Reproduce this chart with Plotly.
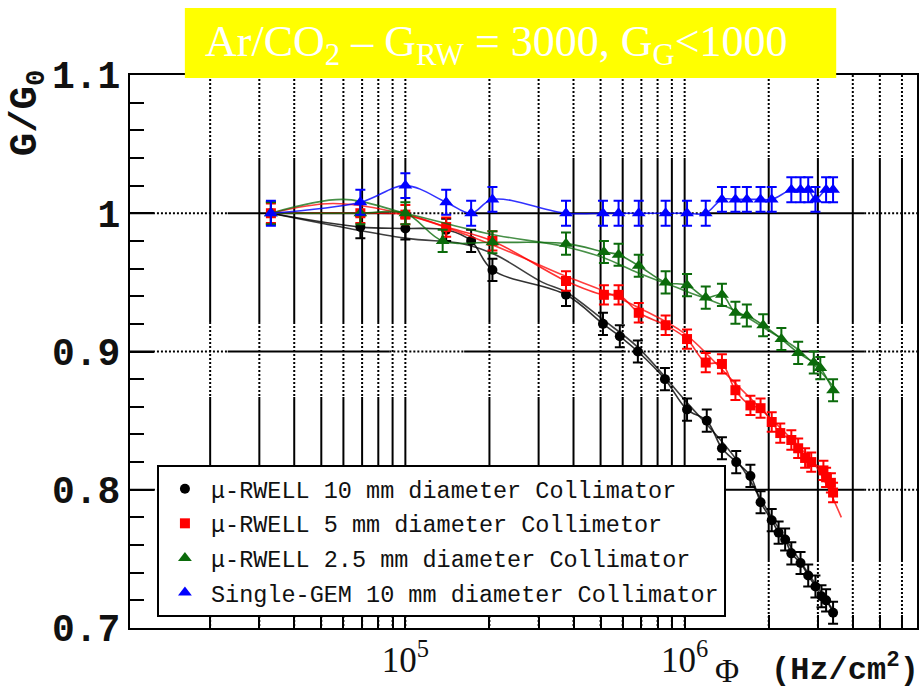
import math
import plotly.graph_objects as go

# ---------------- data ----------------
# mu-RWELL, 10 mm diameter collimator (measured points, run 1)
rw10_flux = [3.3e4, 6.9e4, 1.0e5, 1.4e5, 1.72e5, 2.05e5, 3.76e5, 5.1e5, 5.86e5, 6.8e5,
             8.5e5, 1.02e6, 1.2e6, 1.36e6, 1.53e6, 1.72e6, 1.87e6, 2.05e6, 2.17e6,
             2.29e6, 2.41e6, 2.6e6, 2.77e6, 2.94e6, 3.09e6, 3.21e6, 3.4e6]
rw10_gain = [1.0, 0.99, 0.989, 0.988, 0.98, 0.959, 0.941, 0.92, 0.911, 0.90,
             0.88, 0.858, 0.85, 0.83, 0.82, 0.81, 0.791, 0.778, 0.769,
             0.764, 0.754, 0.747, 0.738, 0.73, 0.723, 0.72, 0.711]
# run 2 of the same configuration (curve only)
rw10b_flux = [3.3e4, 1.0e5, 1.6e5, 2.1e5, 3.1e5, 3.76e5, 5.1e5, 6.8e5, 1.02e6, 1.53e6, 2.05e6, 2.6e6, 3.4e6]
rw10b_gain = [1.0, 0.982, 0.978, 0.97, 0.95, 0.943, 0.923, 0.903, 0.863, 0.822, 0.78, 0.748, 0.713]

# mu-RWELL, 5 mm diameter collimator
rw5_flux = [3.3e4, 6.9e4, 1.0e5, 1.4e5, 2.05e5, 3.76e5, 5.14e5, 5.8e5, 6.85e5, 8.55e5,
            1.02e6, 1.19e6, 1.36e6, 1.52e6, 1.72e6, 1.87e6, 2.05e6, 2.2e6, 2.41e6,
            2.55e6, 2.7e6, 2.84e6, 3.14e6, 3.21e6, 3.34e6, 3.4e6]
rw5_gain = [1.0, 1.0, 0.999, 0.99, 0.98, 0.951, 0.941, 0.941, 0.928, 0.919,
            0.909, 0.892, 0.891, 0.872, 0.861, 0.859, 0.849, 0.841, 0.836,
            0.83, 0.823, 0.82, 0.814, 0.809, 0.805, 0.798]
rw5b_flux = [3.3e4, 5.5e4, 1.0e5, 2.0e5, 3.7e5, 5.1e5, 6.8e5, 1.0e6, 1.5e6, 2.0e6, 2.6e6, 3.0e6, 3.64e6]
rw5b_gain = [1.0, 1.007, 0.999, 0.978, 0.955, 0.944, 0.932, 0.913, 0.878, 0.853, 0.83, 0.815, 0.78]

# mu-RWELL, 2.5 mm diameter collimator
rw25_flux = [3.3e4, 6.9e4, 1.0e5, 1.36e5, 2.05e5, 3.76e5, 5.14e5, 5.8e5, 6.85e5, 8.55e5,
             1.02e6, 1.19e6, 1.36e6, 1.52e6, 1.67e6, 1.91e6, 2.22e6, 2.55e6, 2.9e6,
             3.06e6, 3.4e6]
rw25_gain = [1.0, 1.0, 1.0, 0.98, 0.979, 0.978, 0.972, 0.97, 0.962, 0.95,
             0.948, 0.939, 0.941, 0.928, 0.926, 0.919, 0.909, 0.899, 0.892,
             0.888, 0.872]
rw25b_flux = [3.3e4, 6.0e4, 1.0e5, 2.0e5, 3.7e5, 5.1e5, 6.8e5, 1.0e6, 1.5e6, 2.0e6, 2.6e6, 3.4e6]
rw25b_gain = [1.0, 1.01, 1.0, 0.985, 0.976, 0.968, 0.957, 0.944, 0.93, 0.915, 0.9, 0.875]

# Single-GEM, 10 mm diameter collimator
gem_flux = [3.3e4, 6.9e4, 1.0e5, 1.4e5, 1.72e5, 2.05e5, 3.76e5, 5.1e5, 5.8e5, 6.85e5,
            8.55e5, 1.02e6, 1.19e6, 1.36e6, 1.52e6, 1.67e6, 1.87e6, 2.05e6, 2.41e6,
            2.6e6, 2.77e6, 2.94e6, 3.21e6, 3.4e6]
gem_gain = [1.0, 1.008, 1.02, 1.008, 1.0, 1.01, 1.0, 1.0, 1.0, 1.0,
            1.0, 1.0, 1.0, 1.01, 1.01, 1.01, 1.01, 1.01, 1.017,
            1.017, 1.017, 1.01, 1.017, 1.017]

rw10_err, rw5_err, rw25_err, gem_err = 0.008, 0.007, 0.008, 0.009

legend_names = [
    "\u03bc-RWELL 10 mm diameter Collimator",
    "\u03bc-RWELL 5 mm diameter Collimetor",
    "\u03bc-RWELL 2.5 mm diameter Collimator",
    "Single-GEM 10 mm diameter Collimator",
]
x_tick_labels = {1e5: "10<sup>5</sup>", 1e6: "10<sup>6</sup>"}
y_grid_values = [1.0, 0.9, 0.8]

# ---------------- geometry ----------------
W, H = 924, 691
L, T, R, B = 130, 75, 919, 628
PW, PH = R - L, B - T
X_RANGE = [4.014, 6.832]

MONO = "Liberation Mono"
SERIF = "Liberation Serif"

# grid line pattern: alternating dotted / solid stretches (lengths in px)
V_SEGMENTS = [("dot", 83), ("solid", 164), ("dot", 75), ("solid", 163), ("dot", 68)]
H_SEGMENTS = [("solid", 23), ("dot", 75), ("solid", 162), ("dot", 75), ("solid", 160),
              ("dot", 78), ("solid", 163), ("dot", 53)]


def px_x(p):
    return (p - L) / PW


def px_y(p):
    return (B - p) / PH


def log_to_paper(v):
    return (math.log10(v) - X_RANGE[0]) / (X_RANGE[1] - X_RANGE[0])


def seg_line(kind):
    if kind == "solid":
        return dict(color="black", width=2)
    return dict(color="black", width=2, dash="2px,2px")


fig = go.Figure()

COLORS = ["#000000", "#ff0000", "#0b6b0b", "#0000ff"]
SYMBOLS = ["circle", "square", "triangle-up", "triangle-up"]
SIZES = [10, 10, 12, 12]

series = [
    (rw10_flux, rw10_gain, rw10_err, rw10b_flux, rw10b_gain),
    (rw5_flux, rw5_gain, rw5_err, rw5b_flux, rw5b_gain),
    (rw25_flux, rw25_gain, rw25_err, rw25b_flux, rw25b_gain),
    (gem_flux, gem_gain, gem_err, None, None),
]

for i, (fx, fy, err, bx, by) in enumerate(series):
    col = COLORS[i]
    if bx is not None:
        fig.add_trace(go.Scatter(
            x=bx, y=by, mode="lines", line=dict(color=col, width=1.6, shape="spline"),
            opacity=0.75, showlegend=False, hoverinfo="skip"))
    fig.add_trace(go.Scatter(
        x=fx, y=fy, mode="lines", line=dict(color=col, width=1.6, shape="spline"),
        opacity=0.8, showlegend=False, hoverinfo="skip"))
    fig.add_trace(go.Scatter(
        x=fx, y=fy, mode="markers", name=legend_names[i], legendgroup=f"g{i}",
        marker=dict(color=col, symbol=SYMBOLS[i], size=SIZES[i], line=dict(width=0)),
        error_y=dict(type="constant", value=err, color=col, thickness=2, width=5)))

# grid lines, built from dotted and solid stretches
shapes = []
grid_x = []
for dec in (1e4, 1e5, 1e6):
    for m in range(1, 10):
        v = dec * m
        lv = math.log10(v)
        if X_RANGE[0] + 0.01 < lv < X_RANGE[1] - 0.005:
            grid_x.append(v)

for v in grid_x:
    xp = log_to_paper(v)
    pos = 0
    for kind, length in V_SEGMENTS:
        shapes.append(dict(type="line", xref="paper", yref="paper", x0=xp, x1=xp,
                           y0=1 - pos / PH, y1=1 - min(pos + length, PH) / PH,
                           line=seg_line(kind), layer="below"))
        pos += length

for gy in y_grid_values:
    pos = 0
    for kind, length in H_SEGMENTS:
        shapes.append(dict(type="line", xref="paper", yref="y",
                           x0=pos / PW, x1=min(pos + length, PW) / PW, y0=gy, y1=gy,
                           line=seg_line(kind), layer="below"))
        pos += length

# title box
shapes.append(dict(type="rect", xref="paper", yref="paper",
                   x0=px_x(185), x1=px_x(838), y0=px_y(78), y1=px_y(8),
                   fillcolor="#ffff00", line=dict(width=0), layer="above"))

annotations = [
    dict(text="Ar/CO<sub>2</sub> \u2013 G<sub>RW</sub> = 3000, G<sub>G</sub>&lt;1000",
         xref="paper", yref="paper", x=px_x(203), y=px_y(44), xanchor="left", yanchor="middle",
         showarrow=False, font=dict(family=SERIF, size=44, color="white")),
    dict(text="G/G<sub>0</sub>", textangle=-90, xref="paper", yref="paper",
         x=px_x(28), y=px_y(113), xanchor="center", yanchor="middle", showarrow=False,
         font=dict(family=MONO, size=39, color="#111", weight="bold")),
    dict(text="\u03a6", xref="paper", yref="paper", x=px_x(715), y=px_y(690),
         xanchor="left", yanchor="bottom", showarrow=False, borderpad=0,
         font=dict(family=SERIF, size=33, color="#111")),
    dict(text="(Hz/cm<sup>2</sup>)", xref="paper", yref="paper", x=px_x(922), y=px_y(690),
         xanchor="right", yanchor="bottom", showarrow=False, borderpad=0,
         font=dict(family=MONO, size=32, color="#111", weight="bold")),
]

tickvals = [1e4 * m for m in range(2, 10)] + [1e5 * m for m in range(1, 10)] + [1e6 * m for m in range(1, 7)]
ticktext = [x_tick_labels.get(v, "") for v in tickvals]

fig.update_layout(
    width=W, height=H,
    margin=dict(l=L, r=W - R, t=T, b=H - B, pad=0),
    paper_bgcolor="white", plot_bgcolor="white",
    shapes=shapes, annotations=annotations,
    showlegend=True,
    legend=dict(x=px_x(157), y=px_y(465), xanchor="left", yanchor="top",
                bgcolor="white", bordercolor="black", borderwidth=2,
                font=dict(family=MONO, size=23.5, color="#111"),
                traceorder="grouped", tracegroupgap=1, itemwidth=42),
    xaxis=dict(type="log", range=X_RANGE, showgrid=False, zeroline=False,
               tickmode="array", tickvals=tickvals, ticktext=ticktext,
               ticks="inside", ticklen=13, tickwidth=2, tickcolor="black",
               showline=True, linewidth=2, linecolor="black", mirror=True,
               tickfont=dict(family=SERIF, size=35, color="#111")),
    yaxis=dict(range=[0.7, 1.1], tick0=0.7, dtick=0.1, showgrid=False, zeroline=False,
               ticks="inside", ticklen=24, tickwidth=2, tickcolor="black",
               showline=True, linewidth=2, linecolor="black", mirror=True,
               tickfont=dict(family=MONO, size=38, color="#111", weight="bold"),
               minor=dict(dtick=0.02, tick0=0.7, ticks="inside", ticklen=14,
                          tickwidth=2, tickcolor="black", showgrid=False)),
)

fig.write_html("out.html")
